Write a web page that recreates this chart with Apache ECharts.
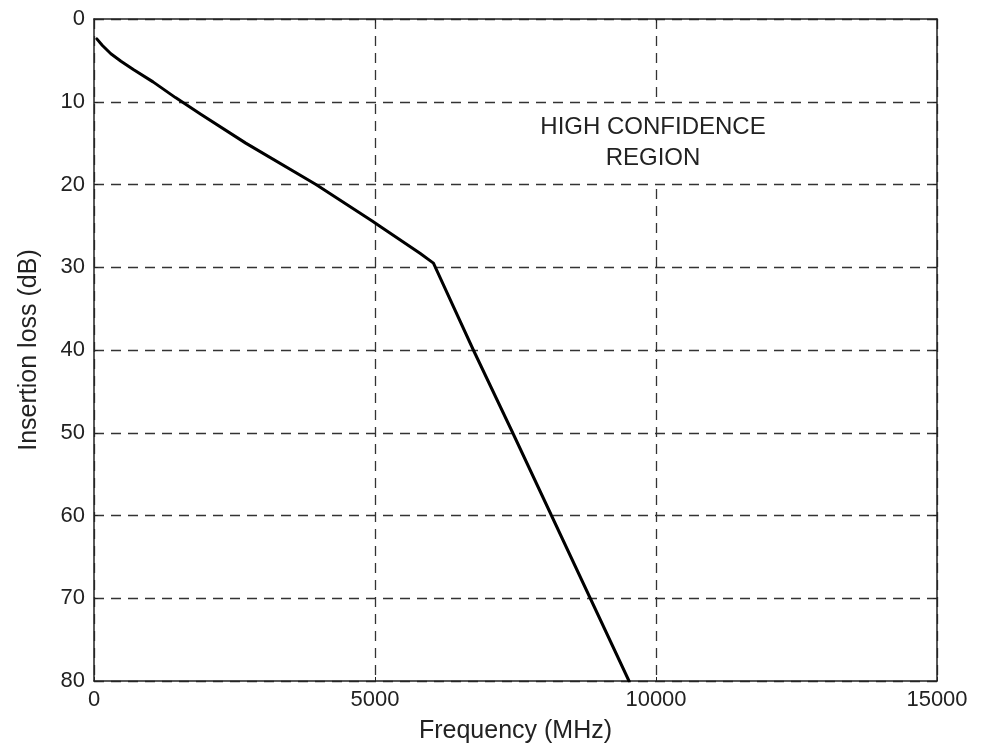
<!DOCTYPE html>
<html>
<head>
<meta charset="utf-8">
<script src="https://cdn.jsdelivr.net/npm/echarts@6/dist/echarts.min.js"></script>
<style>html,body{margin:0;padding:0;background:#fff;}#c{width:987px;height:749px;}</style>
</head>
<body>
<div id="c"></div>
<script>
// Data
var frequencyMHz = [50, 150, 300, 480, 700, 1050, 1450, 1900, 2700, 3950, 4950, 5100, 5800, 6040, 6750, 7450, 8140, 8830, 9520];
var insertionLossDb = [2.4, 3.2, 4.2, 5.1, 6.1, 7.6, 9.5, 11.5, 15.0, 20.0, 24.4, 25.1, 28.3, 29.5, 40.0, 50.0, 60.0, 70.0, 80.0];
var xTicks = [0, 5000, 10000, 15000];
var yTicks = [0, 10, 20, 30, 40, 50, 60, 70, 80];
var annotationText = ['HIGH CONFIDENCE', 'REGION'];
var xName = 'Frequency (MHz)';
var yName = 'Insertion loss (dB)';

var pts = frequencyMHz.map(function (f, i) { return [f, insertionLossDb[i]]; });
var FONT = 'Liberation Sans';
var gridLine = { show: true, lineStyle: { color: '#333', width: 1.3, type: [10, 7] } };
var plain = function (v) { return String(v); };

var chart = echarts.init(document.getElementById('c'));
chart.setOption({
  backgroundColor: '#ffffff',
  animation: false,
  grid: { left: 94, right: 50, top: 19, bottom: 66 },
  xAxis: [{
    type: 'value', min: xTicks[0], max: xTicks[xTicks.length - 1], interval: 5000,
    position: 'bottom',
    name: xName, nameLocation: 'middle', nameGap: 38,
    nameTextStyle: { fontFamily: FONT, fontSize: 25, color: '#222' },
    axisLine: { show: true, onZero: false, lineStyle: { color: '#222', width: 1.5 } },
    axisTick: { show: true, inside: true, length: 4, lineStyle: { color: '#222' } },
    axisLabel: { fontFamily: FONT, fontSize: 22, color: '#222', margin: 8, formatter: plain },
    splitLine: gridLine
  }, {
    type: 'value', min: xTicks[0], max: xTicks[xTicks.length - 1], interval: 5000,
    position: 'top',
    axisLine: { show: true, onZero: false, lineStyle: { color: '#222', width: 1.5 } },
    axisTick: { show: true, inside: true, length: 4, lineStyle: { color: '#222' } },
    axisLabel: { show: false }, splitLine: { show: false }
  }],
  yAxis: [{
    type: 'value', inverse: true, min: yTicks[0], max: yTicks[yTicks.length - 1], interval: 10,
    position: 'left',
    name: yName, nameLocation: 'middle', nameGap: 52, nameRotate: 90,
    nameTextStyle: { fontFamily: FONT, fontSize: 25, color: '#222' },
    axisLine: { show: true, onZero: false, lineStyle: { color: '#222', width: 1.5 } },
    axisTick: { show: true, inside: true, length: 4, lineStyle: { color: '#222' } },
    axisLabel: { fontFamily: FONT, fontSize: 22, color: '#222', margin: 9, formatter: plain },
    splitLine: gridLine
  }, {
    type: 'value', inverse: true, min: yTicks[0], max: yTicks[yTicks.length - 1], interval: 10,
    position: 'right',
    axisLine: { show: true, onZero: false, lineStyle: { color: '#222', width: 1.5 } },
    axisTick: { show: true, inside: true, length: 4, lineStyle: { color: '#222' } },
    axisLabel: { show: false }, splitLine: { show: false }
  }],
  series: [{
    type: 'line', data: pts, showSymbol: false, smooth: false,
    lineStyle: { color: '#000', width: 3, join: 'round', cap: 'round' },
    xAxisIndex: 0, yAxisIndex: 0, z: 5
  }],
  graphic: [{
    type: 'rect', z: 10,
    shape: { x: 532, y: 104, width: 242, height: 78 },
    style: { fill: '#ffffff' }
  }, {
    type: 'text', x: 653, y: 112, z: 11,
    style: {
      text: annotationText.join('\n'), fontFamily: FONT, fontSize: 24, lineHeight: 31,
      fill: '#222', align: 'center', verticalAlign: 'top'
    }
  }]
});
</script>
</body>
</html>
